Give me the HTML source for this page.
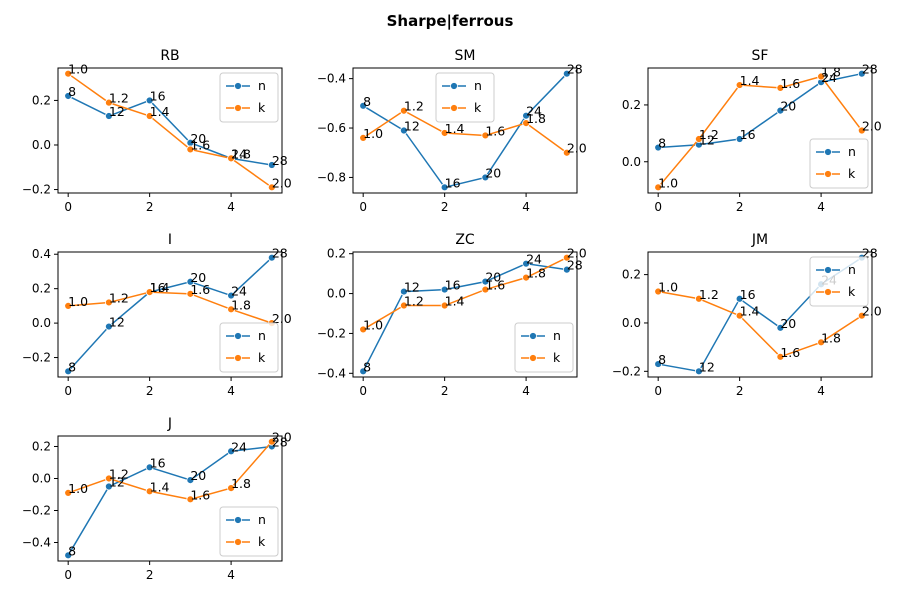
<!DOCTYPE html>
<html><head><meta charset="utf-8"><style>
body{margin:0;background:#fff;}
svg text{font-family:"DejaVu Sans","Liberation Sans",sans-serif;}
</style></head><body>
<svg id="chart" width="900" height="600" xmlns="http://www.w3.org/2000/svg">
<rect width="900" height="600" fill="#fff"/>
<text x="450" y="26" text-anchor="middle" font-size="15" font-weight="bold">Sharpe|ferrous</text>
</svg>
<script>
const titles = ["RB","SM","SF","I","ZC","JM","J"];
const nValues = [
 [0.22,0.13,0.20,0.01,-0.06,-0.09],
 [-0.51,-0.61,-0.84,-0.80,-0.55,-0.38],
 [0.05,0.06,0.08,0.18,0.28,0.31],
 [-0.28,-0.02,0.18,0.24,0.16,0.38],
 [-0.39,0.01,0.02,0.06,0.15,0.12],
 [-0.17,-0.20,0.10,-0.02,0.16,0.27],
 [-0.48,-0.05,0.07,-0.01,0.17,0.20]
];
const kValues = [
 [0.32,0.19,0.13,-0.02,-0.06,-0.19],
 [-0.64,-0.53,-0.62,-0.63,-0.58,-0.70],
 [-0.09,0.08,0.27,0.26,0.30,0.11],
 [0.10,0.12,0.18,0.17,0.08,0.00],
 [-0.18,-0.06,-0.06,0.02,0.08,0.18],
 [0.13,0.10,0.03,-0.14,-0.08,0.03],
 [-0.09,0.00,-0.08,-0.13,-0.06,0.23]
];
const nLabels = ["8","12","16","20","24","28"];
const kLabels = ["1.0","1.2","1.4","1.6","1.8","2.0"];
const yTicks = [
 [-0.2,0.0,0.2],[-0.8,-0.6,-0.4],[0.0,0.2],[-0.2,0.0,0.2,0.4],
 [-0.4,-0.2,0.0,0.2],[-0.2,0.0,0.2],[-0.4,-0.2,0.0,0.2]
];
const xTicks = [0,2,4];
const legendLoc = ["ur","uc","lr","lr","lr","ur","lr"];

const svg = document.getElementById('chart');
const NS = "http://www.w3.org/2000/svg";
function mk(tag, attrs, parent){
  const e = document.createElementNS(NS, tag);
  for (const k in attrs) e.setAttribute(k, attrs[k]);
  (parent||svg).appendChild(e); return e;
}
const colX = [58,353,648], rowY = [68,252,436], W = 224, H = 125;
const C1 = "#1f77b4", C2 = "#ff7f0e";

titles.forEach((t, i) => {
  const x0 = colX[i%3], y0 = rowY[Math.floor(i/3)];
  const g = mk('g', {});
  
  
  const all = nValues[i].concat(kValues[i]);
  let mn = Math.min(...all), mx = Math.max(...all);
  const pad = (mx - mn) * 0.05; mn -= pad; mx += pad;
  const sx = v => x0 + (v + 0.25) / 5.5 * W;
  const sy = v => y0 + H - (v - mn) / (mx - mn) * H;
  const tt = mk('text', {x: x0 + W/2, y: y0 - 8, 'text-anchor': 'middle', 'font-size': 14}, g);
  tt.textContent = t;
  
  
  xTicks.forEach(v => {
    mk('line', {x1: sx(v), x2: sx(v), y1: y0+H, y2: y0+H+4, stroke: '#000'}, g);
    const l = mk('text', {x: sx(v), y: y0+H+18, 'text-anchor': 'middle', 'font-size': 12}, g);
    l.textContent = v;
    
    
  });
  yTicks[i].forEach(v => {
    mk('line', {x1: x0-4, x2: x0, y1: sy(v), y2: sy(v), stroke: '#000'}, g);
    const l = mk('text', {x: x0-7, y: sy(v)+4, 'text-anchor': 'end', 'font-size': 12}, g);
    l.textContent = v.toFixed(1).replace('-', '\u2212');
    
    
  });
  [[nValues[i], C1, 'n'], [kValues[i], C2, 'k']].forEach(([vals, c, nm]) => {
    const pl = mk('polyline', {points: vals.map((v, j) => sx(j) + ',' + sy(v)).join(' '), fill: 'none', stroke: c, 'stroke-width': 1.5}, g);
    
    
    vals.forEach((v, j) => {
      const p = mk('circle', {cx: sx(j), cy: sy(v), r: 3.5, fill: c, stroke: '#fff', 'stroke-width': 0.8}, g);
      
      
    });
  });
  [[nValues[i], nLabels], [kValues[i], kLabels]].forEach(([vals, labs]) => {
    vals.forEach((v, j) => {
      const l = mk('text', {x: sx(j), y: sy(v), 'font-size': 12.5}, g);
      l.textContent = labs[j];
      
      
    });
  });
  mk('rect', {x: x0, y: y0, width: W, height: H, fill: 'none', stroke: '#000', 'stroke-width': 1}, g);
  const lw = 58, lh = 49;
  let lx, ly;
  if (legendLoc[i] === 'ur') { lx = x0+W-lw-4; ly = y0+5; }
  else if (legendLoc[i] === 'uc') { lx = x0+W/2-lw/2; ly = y0+5; }
  else { lx = x0+W-lw-4; ly = y0+H-lh-5; }
  const lg = mk('g', {}, g);
  
  
  mk('rect', {x: lx, y: ly, width: lw, height: lh, rx: 3, fill: '#fff', 'fill-opacity': 0.8, stroke: '#ccc'}, lg);
  [['n', C1], ['k', C2]].forEach(([nm, c], j) => {
    const yy = ly + 13 + j*22;
    mk('line', {x1: lx+6, x2: lx+30, y1: yy, y2: yy, stroke: c, 'stroke-width': 1.5}, lg);
    mk('circle', {cx: lx+18, cy: yy, r: 3.5, fill: c, stroke: '#fff', 'stroke-width': 0.8}, lg);
    const l = mk('text', {x: lx+38, y: yy+4, 'font-size': 12.5}, lg);
    l.textContent = nm;
    
    
  });
});
</script>
</body></html>
